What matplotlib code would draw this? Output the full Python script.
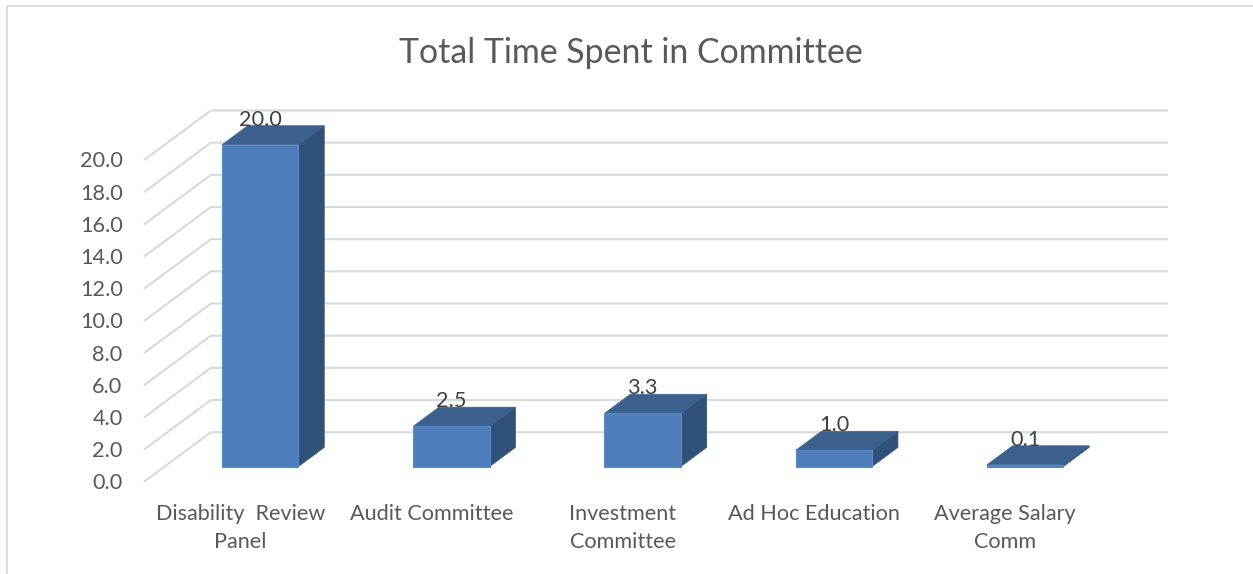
import matplotlib
matplotlib.use("Agg")
import matplotlib.pyplot as plt
from matplotlib.patches import Polygon
from matplotlib.lines import Line2D

categories = ["Disability  Review\nPanel", "Audit Committee", "Investment\nCommittee",
              "Ad Hoc Education", "Average Salary\nComm"]
values = [20.0, 2.5, 3.3, 1.0, 0.1]
y_ticks = [0, 2, 4, 6, 8, 10, 12, 14, 16, 18, 20]
title = "Total Time Spent in Committee"

W, H = 1253, 574
plt.rcParams["font.family"] = ["Lato", "DejaVu Sans"]
fig = plt.figure(figsize=(W / 100, H / 100), dpi=100)

# plot frame in pixels
left, right, bottom, top = 144.8, 1167.0, 481.2, 109.5
ax = fig.add_axes([left / W, 1 - bottom / H, (right - left) / W, (bottom - top) / H])
ax.patch.set_alpha(0)
px_y = (481.7 - 160.0) / 20.0
px_x = 191.0
depth_x = 66.0 / px_x      # floor depth in category units
depth_y = 49.0 / px_y      # floor depth in value units
ax.set_xlim(-0.5, 4.5 + depth_x)
ax.set_ylim(0, (bottom - top) / px_y)
for s in ax.spines.values():
    s.set_visible(False)

# gridlines: wall + floor edge
GRID = "#d9d9d9"
for v in y_ticks:
    ax.plot([-0.5, -0.5 + depth_x, 4.5 + depth_x], [v, v + depth_y, v + depth_y],
            color=GRID, lw=1.5, solid_joinstyle="miter", clip_on=False, zorder=1)

# 3D bars
half = 0.2
d0, d1 = 0.30, 0.69
FRONT, SIDE, TOP = "#4e7fbc", "#305279", "#3c618f"
for i, v in enumerate(values):
    fx = i + d0 * depth_x
    bx = i + d1 * depth_x
    fy0 = d0 * depth_y
    by0 = d1 * depth_y
    ax.add_patch(Polygon([(fx + half, fy0), (bx + half, by0), (bx + half, by0 + v), (fx + half, fy0 + v)],
                         closed=True, fc=SIDE, ec=SIDE, lw=0.5, zorder=2, clip_on=False))
    ax.add_patch(Polygon([(fx - half, fy0 + v), (fx + half, fy0 + v), (bx + half, by0 + v), (bx - half, by0 + v)],
                         closed=True, fc=TOP, ec=TOP, lw=0.5, zorder=3, clip_on=False))
    ax.add_patch(Polygon([(fx - half, fy0), (fx + half, fy0), (fx + half, fy0 + v), (fx - half, fy0 + v)],
                         closed=True, fc=FRONT, ec="#5b8bc6", lw=0.8, zorder=4, clip_on=False))
    ax.text(fx, fy0 + v + 25 / px_y, f"{v:.1f}", ha="center", va="center",
            fontsize=15.6, color="#404040", zorder=5, clip_on=False)

ax.set_yticks(y_ticks, [f"{v:.1f}" for v in y_ticks])
ax.set_xticks(range(len(categories)), categories, linespacing=1.53)
ax.tick_params(axis="both", length=0, labelsize=15.6, labelcolor="#595959")
ax.tick_params(axis="y", pad=16)
ax.tick_params(axis="x", pad=16.2)

fig.text(630.5 / W, 1 - 53 / H, title, ha="center", va="center", fontsize=24.4, color="#595959")

# chart frame
fig.add_artist(Line2D([7 / W, 7 / W, 1], [0, 1 - 5.5 / H, 1 - 5.5 / H], color="#d9d9d9", lw=1.3))

fig.savefig("out.png", dpi=100)
